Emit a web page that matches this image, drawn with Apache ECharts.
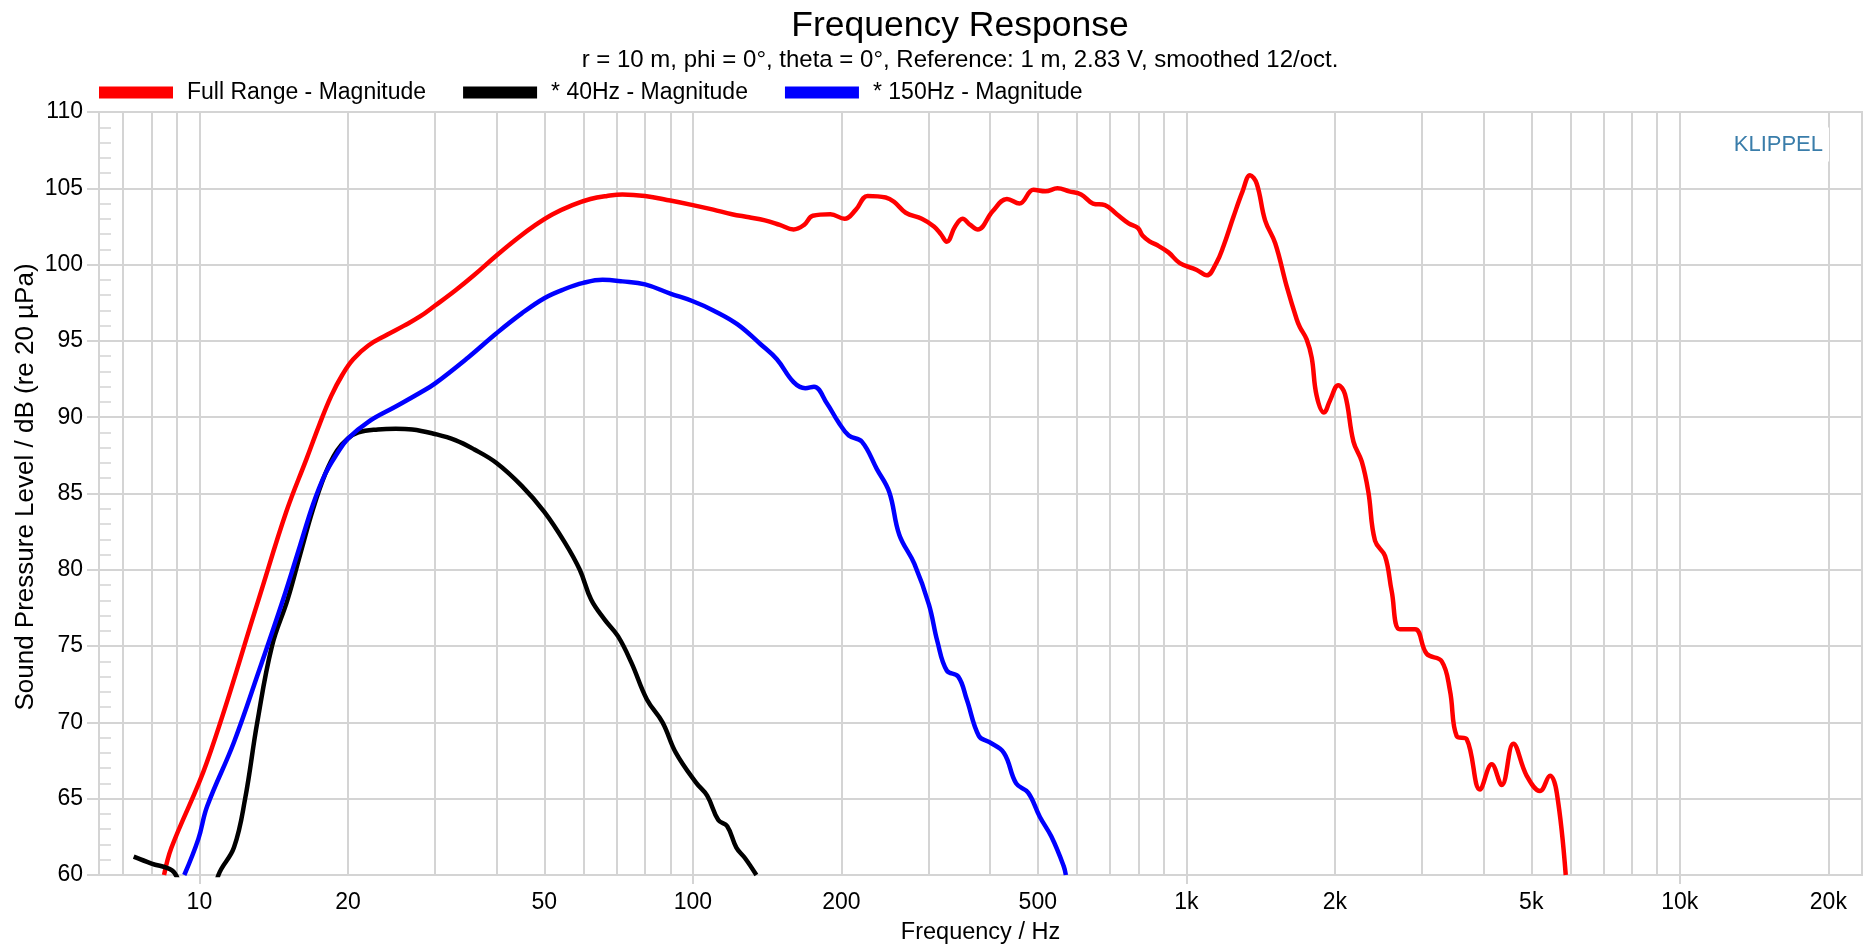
<!DOCTYPE html>
<html><head><meta charset="utf-8">
<script src="https://cdn.jsdelivr.net/npm/echarts@6/dist/echarts.min.js"></script>
<style>html,body{margin:0;padding:0;background:#fff}#c{width:1863px;height:950px}</style>
</head><body><div id="c"></div>
<script>
// ---- data (frequency in Hz, level in dB) ----
const fullRangeHz = [8.48, 8.78, 10.36, 13.18, 15, 16.5, 17.5, 18.5, 19.5, 20.5, 22, 24, 26, 28, 30, 33, 36, 40, 44, 48, 52, 57, 62, 67, 72, 80, 90, 100, 110, 120, 130, 140, 150, 160, 168, 175, 190, 203, 214, 226, 246, 256, 270, 291, 308, 318, 327, 340, 352, 365, 378, 405, 433, 459, 490, 518, 548, 579, 612, 647, 684, 723, 764, 798, 815, 844, 870, 920, 970, 1050, 1100, 1150, 1189, 1245, 1300, 1346, 1389, 1444, 1514, 1598, 1674, 1699, 1753, 1795, 1837, 1901, 1955, 2032, 2097, 2181, 2267, 2338, 2412, 2527, 2607, 2710, 2907, 3069, 3293, 3421, 3531, 3700, 3936, 4158, 4356, 4599, 4895, 5208, 5458, 5632, 5873];
const fullRangeDb = [60, 61.8, 67.4, 78.05, 83.8, 87.3, 89.5, 91.4, 92.8, 93.8, 94.7, 95.4, 96.0, 96.6, 97.3, 98.3, 99.3, 100.6, 101.7, 102.6, 103.3, 103.9, 104.3, 104.5, 104.6, 104.5, 104.2, 103.9, 103.6, 103.3, 103.1, 102.9, 102.6, 102.3, 102.6, 103.2, 103.3, 103.0, 103.6, 104.5, 104.4, 104.1, 103.4, 103.0, 102.5, 102.0, 101.5, 102.5, 103.0, 102.6, 102.3, 103.5, 104.3, 104.0, 104.9, 104.8, 105.0, 104.8, 104.6, 104.0, 103.9, 103.3, 102.7, 102.4, 101.9, 101.5, 101.3, 100.8, 100.1, 99.65, 99.3, 100.1, 101.2, 103.1, 104.8, 105.86, 105.3, 102.9, 101.4, 98.55, 96.4, 95.9, 95.1, 93.9, 91.4, 90.3, 91.1, 92.1, 91.5, 88.4, 87.1, 85.1, 81.9, 80.9, 78.6, 76.1, 76.1, 74.5, 74.0, 72.1, 69.1, 68.9, 65.6, 67.25, 65.9, 68.6, 66.5, 65.5, 66.5, 65.4, 60];

const lp40Hz = [7.36, 8.0, 8.8, 9.1, 9.8, 10.5, 10.93, 11.75, 12.38, 13.1, 14.03, 15.09, 16, 17, 18, 19, 20, 21, 23, 25, 27, 30, 33, 36, 40, 45, 50, 55, 59, 62.2, 66.2, 70.5, 75.1, 80.7, 86.8, 92.4, 101.5, 106.9, 112.6, 117.4, 122.5, 127.6, 134.5];
const lp40Db = [61.2, 60.75, 60.3, 59.5, 56.5, 57.5, 60, 61.8, 65, 70, 75, 78.05, 81.0, 84.0, 86.3, 87.8, 88.6, 89.0, 89.2, 89.25, 89.2, 88.9, 88.5, 87.9, 87.0, 85.5, 83.8, 81.8, 80.0, 78.05, 76.75, 75.65, 73.9, 71.5, 70.0, 68.0, 66.05, 65.2, 63.6, 63.2, 61.8, 61.1, 60];

const lp150Hz = [9.32, 9.95, 10.37, 11.75, 13.18, 14.78, 16, 17, 18, 19, 20, 22, 25, 28, 30, 35, 40, 45, 50, 55, 60, 65.6, 72, 80, 90, 100, 110, 123, 137, 148, 160, 169, 176, 187, 197, 207, 220, 236, 250, 262, 281, 301, 313, 327, 345, 359, 380, 399, 427, 452, 478, 505, 533, 564, 570];
const lp150Db = [60, 62.35, 64.5, 68.7, 73.3, 78.05, 81.6, 84.3, 86.3, 87.6, 88.6, 89.7, 90.7, 91.6, 92.2, 93.9, 95.5, 96.8, 97.8, 98.4, 98.8, 99.0, 98.9, 98.7, 98.1, 97.6, 97.0, 96.1, 94.8, 93.8, 92.3, 91.9, 92.0, 90.9, 89.7, 88.8, 88.4, 86.6, 85.1, 82.3, 80.4, 77.7, 75.3, 73.4, 73.0, 71.5, 69.1, 68.7, 68.0, 66.0, 65.4, 63.8, 62.5, 60.6, 60];

const seriesNames = ['Full Range - Magnitude', '* 40Hz - Magnitude', '* 150Hz - Magnitude'];
const seriesColors = ['#ff0000', '#000000', '#0000ff'];

const xLabelHz = [10, 20, 50, 100, 200, 500, 1000, 2000, 5000, 10000, 20000];
const xMajorTickHz = [10, 100, 1000, 10000];
const xGridHz = [7, 8, 9, 10, 20, 30, 40, 50, 60, 70, 80, 90, 100, 200, 300, 400, 500, 600, 700, 800, 900, 1000, 2000, 3000, 4000, 5000, 6000, 7000, 8000, 9000, 10000, 20000];
const xMinHz = 6.26, xMaxHz = 23400;
const yMin = 60, yMax = 110, yStep = 5;

const titleText = 'Frequency Response';
const subtitleText = 'r = 10 m, phi = 0°, theta = 0°, Reference: 1 m, 2.83 V, smoothed 12/oct.';
const xName = 'Frequency / Hz';
const yName = 'Sound Pressure Level / dB (re 20 µPa)';
const brandText = 'KLIPPEL';

// ---- build ----
const FONT = "'Liberation Sans', Arial, Helvetica, sans-serif";
const lg = Math.log10;
const pairs = (hz, db) => hz.map((f, i) => [lg(f), db[i]]);
const gridColor = '#d4d4d4';
const fmtHz = v => { const f = Math.round(Math.pow(10, v)); return f >= 1000 ? (f / 1000) + 'k' : String(f); };

const seriesData = [pairs(fullRangeHz, fullRangeDb), pairs(lp40Hz, lp40Db), pairs(lp150Hz, lp150Db)];

const chart = echarts.init(document.getElementById('c'), null, {renderer: 'canvas'});
chart.setOption({
  animation: false,
  backgroundColor: '#fff',
  textStyle: {fontFamily: FONT},
  grid: {left: 99, right: 1, top: 112, bottom: 74, show: true, borderColor: gridColor, borderWidth: 2, backgroundColor: 'transparent'},
  legend: {
    left: 99, top: 81, padding: 0, itemGap: 37, itemWidth: 74, itemHeight: 12, icon: 'rect',
    data: seriesNames,
    textStyle: {fontSize: 23, color: '#000', fontFamily: FONT, padding: [0, 0, 0, 9]}
  },
  xAxis: [
    {
      type: 'value', min: lg(xMinHz), max: lg(xMaxHz), position: 'bottom',
      axisLine: {show: true, onZero: false, lineStyle: {color: gridColor, width: 2}},
      axisTick: {show: true, length: 9, customValues: xMajorTickHz.map(lg), lineStyle: {color: gridColor, width: 2}},
      axisLabel: {customValues: xLabelHz.map(lg), formatter: fmtHz, fontSize: 23, color: '#000', margin: 16, fontFamily: FONT},
      splitLine: {show: false},
      name: xName, nameLocation: 'middle', nameGap: 46, nameMoveOverlap: false,
      nameTextStyle: {fontSize: 23.5, color: '#000', fontFamily: FONT}
    },
    {
      type: 'value', min: lg(xMinHz), max: lg(xMaxHz), position: 'bottom',
      axisLine: {show: false}, axisLabel: {show: false},
      axisTick: {show: false, customValues: xGridHz.map(lg)},
      splitLine: {show: true, lineStyle: {color: gridColor, width: 2}}
    }
  ],
  yAxis: [
    {
      type: 'value', min: yMin, max: yMax, interval: yStep, position: 'left',
      axisLine: {show: true, onZero: false, lineStyle: {color: gridColor, width: 2}},
      axisTick: {show: true, length: 12, lineStyle: {color: gridColor, width: 2}},
      axisLabel: {fontSize: 23, color: '#000', margin: 16, fontFamily: FONT},
      splitLine: {show: true, lineStyle: {color: gridColor, width: 2}},
      name: yName, nameLocation: 'middle', nameGap: 60, nameMoveOverlap: false,
      nameTextStyle: {fontSize: 26, color: '#000', fontFamily: FONT, padding: [0, 0, 0, 13]}
    },
    {
      type: 'value', min: yMin, max: yMax, interval: yStep, position: 'left',
      axisLine: {show: false}, axisLabel: {show: false}, splitLine: {show: false},
      axisTick: {show: false, inside: true},
      minorTick: {show: true, splitNumber: 5, length: 12, lineStyle: {color: gridColor, width: 1.5}}
    }
  ],
  series: seriesNames.map((name, i) => ({
    name, type: 'line', xAxisIndex: 0, yAxisIndex: 0,
    data: seriesData[i], showSymbol: false, symbol: 'none',
    smooth: 0.4, clip: true,
    color: seriesColors[i],
    lineStyle: {color: seriesColors[i], width: 4.5},
    emphasis: {disabled: true}
  })),
  graphic: [
    {type: 'text', z: 100, style: {x: 960, y: 26.5, text: titleText, fontSize: 35.5, fontFamily: FONT, fill: '#000', align: 'center', verticalAlign: 'middle'}},
    {type: 'text', z: 100, style: {x: 960, y: 60.5, text: subtitleText, fontSize: 24, fontFamily: FONT, fill: '#000', align: 'center', verticalAlign: 'middle'}},
    {type: 'text', z: 100, style: {x: 1829, y: 144.5, text: brandText, fontSize: 22, fontFamily: FONT, fill: '#3A7DAA', align: 'right', verticalAlign: 'middle', backgroundColor: '#fff', padding: [6, 6]}}
  ]
});
</script></body></html>
